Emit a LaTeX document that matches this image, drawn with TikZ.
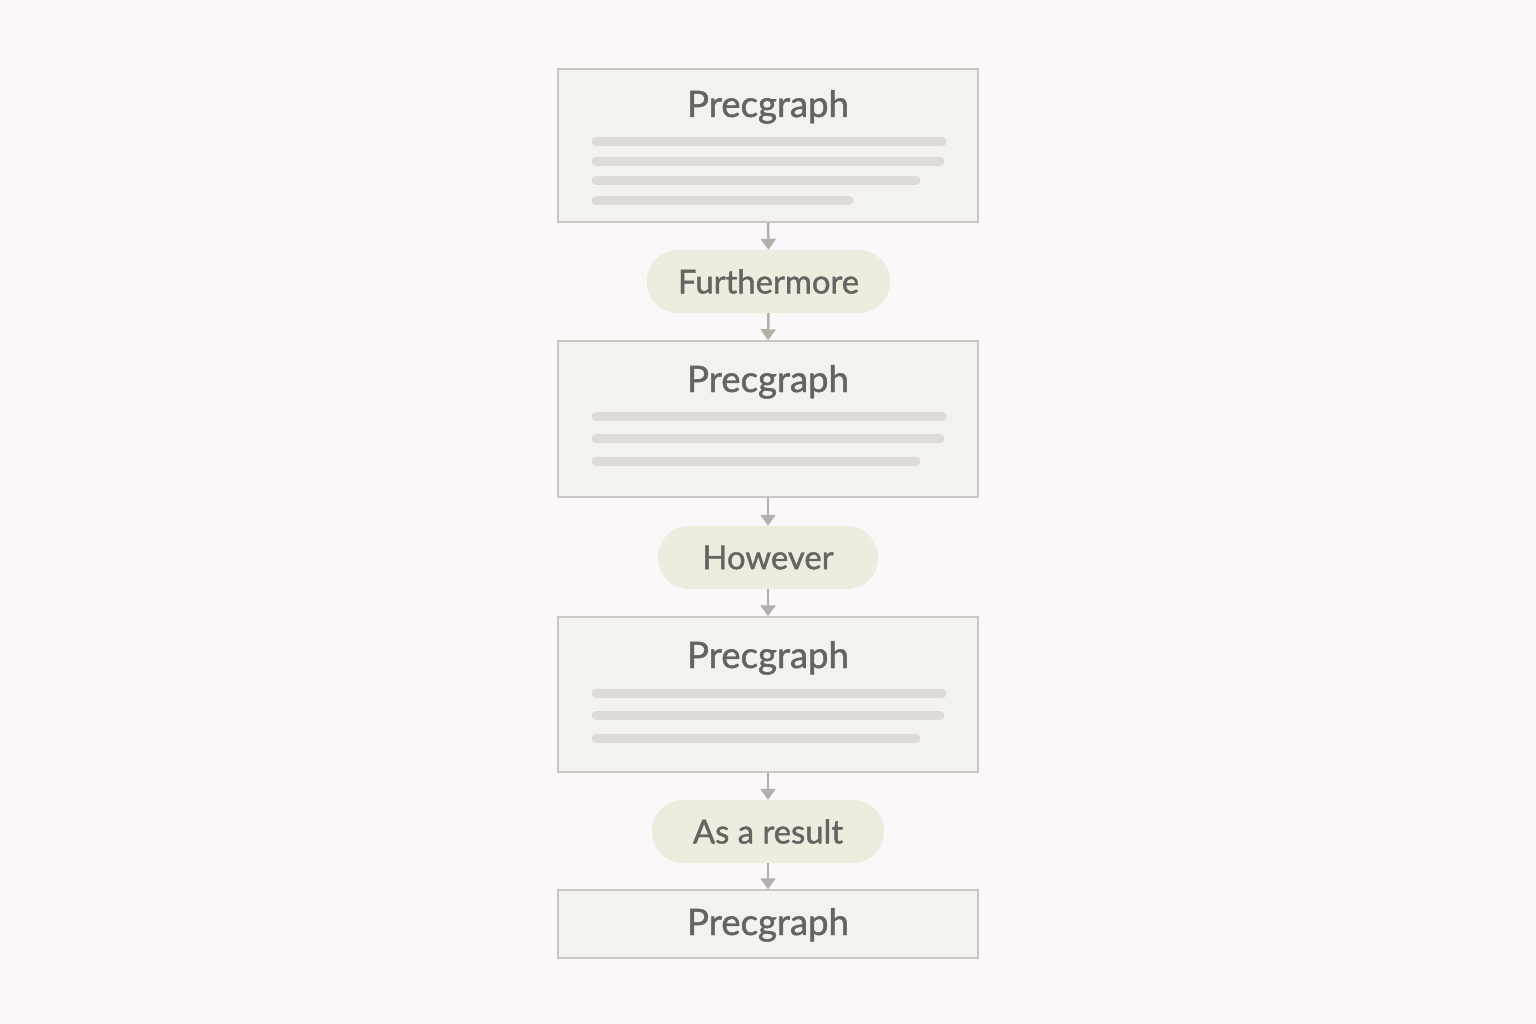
\documentclass[tikz,border=0pt]{standalone}
\usepackage{fontspec}
\setmainfont{Lato}
\newfontfamily\semib[FakeBold=1.3]{Lato}
\usetikzlibrary{arrows.meta}
\definecolor{bgc}{HTML}{FCF8F9}
\definecolor{boxfill}{HTML}{F4F2EE}
\definecolor{boxline}{HTML}{CAC7C2}
\definecolor{pillfill}{HTML}{EFEBDF}
\definecolor{txt}{HTML}{666461}
\definecolor{barc}{HTML}{DEDBD6}
\definecolor{arr}{HTML}{B3B0AA}
\tikzset{
  para/.style={draw=boxline, line width=1.5pt, fill=boxfill, minimum width=420pt, inner sep=0pt},
  pill/.style={fill=pillfill, rounded corners=31pt, minimum height=63pt, inner sep=0pt, font=\semib\fontsize{32.8}{39}\selectfont, text=txt},
  ttl/.style={font=\semib\fontsize{36.5}{44}\selectfont, text=txt, inner sep=0pt, anchor=base},
  bar/.style={draw=barc, line width=9pt, line cap=round},
  conn/.style={draw=arr, line width=2.5pt, -{Triangle[width=15pt,length=11pt]}},
}
\begin{document}
\begin{tikzpicture}[x=1pt,y=-1pt]
\fill[bgc] (0,0) rectangle (1536,1024);
\useasboundingbox (0,0) rectangle (1536,1024);

% boxes
\node[para, minimum height=153pt] (b1) at (768,145.5) {};
\node[pill, minimum width=243pt] (p1) at (768.5,281.5) {Furthermore};
\node[para, minimum height=156pt] (b2) at (768,419) {};
\node[pill, minimum width=220pt] (p2) at (768,557.5) {However};
\node[para, minimum height=155pt] (b3) at (768,694.5) {};
\node[pill, minimum width=232pt] (p3) at (768,831.5) {As a result};
\node[para, minimum height=68pt] (b4) at (768,924) {};

% titles
\node[ttl] (t1) at (768,117) {Precgraph};
\node[ttl] (t2) at (768,392) {Precgraph};
\node[ttl] (t3) at (768,668) {Precgraph};
\node[ttl] (t4) at (768,935) {Precgraph};

% text bars
\draw[bar] (596,142) -- (942,142);
\draw[bar] (596,162) -- (940,162);
\draw[bar] (596,181) -- (916,181);
\draw[bar] (596,201) -- (849,201);

\draw[bar] (596,416) -- (942,416);
\draw[bar] (596,438) -- (940,438);
\draw[bar] (596,461) -- (916,461);

\draw[bar] (596,693) -- (942,693);
\draw[bar] (596,715) -- (940,715);
\draw[bar] (596,738) -- (916,738);

% connectors
\draw[conn] (b1.south) -- (p1.north);
\draw[conn] (p1.south) -- (b2.north);
\draw[conn] (b2.south) -- (p2.north);
\draw[conn] (p2.south) -- (b3.north);
\draw[conn] (b3.south) -- (p3.north);
\draw[conn] (p3.south) -- (b4.north);
\end{tikzpicture}
\end{document}
